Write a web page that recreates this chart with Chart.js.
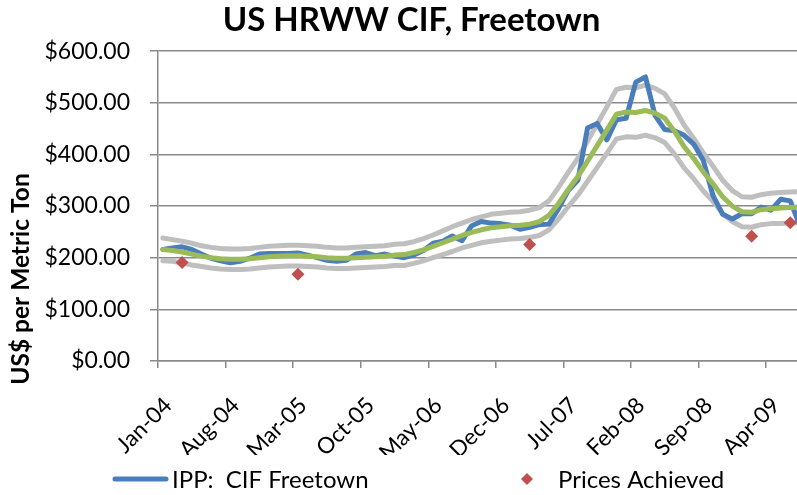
<!DOCTYPE html>
<html>
<head>
<meta charset="utf-8">
<script src="https://cdn.jsdelivr.net/npm/chart.js@4.4.1/dist/chart.umd.min.js"></script>
<style>
  html, body { margin: 0; padding: 0; background: #ffffff; }
  #wrap { width: 797px; height: 495px; }
</style>
</head>
<body>
<div id="wrap"><canvas id="c" width="797" height="495"></canvas></div>
<script>
// ---- data ----
const months = [
  'Jan-04','Feb-04','Mar-04','Apr-04','May-04','Jun-04','Jul-04','Aug-04','Sep-04','Oct-04','Nov-04','Dec-04',
  'Jan-05','Feb-05','Mar-05','Apr-05','May-05','Jun-05','Jul-05','Aug-05','Sep-05','Oct-05','Nov-05','Dec-05',
  'Jan-06','Feb-06','Mar-06','Apr-06','May-06','Jun-06','Jul-06','Aug-06','Sep-06','Oct-06','Nov-06','Dec-06',
  'Jan-07','Feb-07','Mar-07','Apr-07','May-07','Jun-07','Jul-07','Aug-07','Sep-07','Oct-07','Nov-07','Dec-07',
  'Jan-08','Feb-08','Mar-08','Apr-08','May-08','Jun-08','Jul-08','Aug-08','Sep-08','Oct-08','Nov-08','Dec-08',
  'Jan-09','Feb-09','Mar-09','Apr-09','May-09','Jun-09','Jul-09'
];
const tickLabels = ['Jan-04','Aug-04','Mar-05','Oct-05','May-06','Dec-06','Jul-07','Feb-08','Sep-08','Apr-09'];

const ippCif = [
  216,219,221,216,207,199,194,190,193,199,
  207,208,208,208,209,205,200,195,193,195,
  207,210,204,207,203,200,205,214,228,232,
  242,233,262,270,267,266,263,255,259,264,
  265,295,330,350,451,460,428,467,470,540,
  550,475,448,446,437,420,388,320,284,275,
  285,285,298,292,313,310,262
];
const trend = [
  216,214,211,207,203,200,198,197,197,198,
  200,202,203,204,204,203,202,200,199,199,
  200,201,202,203,205,206,210,215,222,229,
  236,243,249,254,258,260,262,263,265,270,
  282,305,332,357,387,417,447,478,482,481,
  485,480,470,445,415,392,366,343,318,300,
  289,288,293,295,296,297,298
];
const bandUpper = [
  238,235,232,228,223,220,218,217,217,218,
  220,222,223,224,224,223,222,220,219,219,
  220,221,222,223,226,227,231,237,244,252,
  260,267,274,279,284,286,288,289,292,297,
  310,336,365,393,426,459,492,526,530,529,
  534,528,517,490,457,431,403,377,350,330,
  318,317,322,325,326,327,328
];
const bandLower = [
  194,193,190,186,183,180,178,177,177,178,
  180,182,183,184,184,183,182,180,179,179,
  180,181,182,183,185,185,189,194,200,206,
  212,219,224,229,232,234,236,237,239,243,
  254,275,299,321,348,375,402,430,434,433,
  437,432,423,401,374,353,329,309,286,270,
  260,259,264,266,266,267,268
];
const achievedMonths = ['Mar-04','Mar-05','Mar-07','Feb-09','Jun-09'];
const achievedPrices = [190.6, 168, 225.6, 241.7, 267.6];

// ---- build point tables (points sit mid-month on a month axis) ----
const pts = arr => arr.map((v, i) => ({ x: i + 0.5, y: v }));
const achievedPts = achievedMonths.map((m, k) => ({ x: months.indexOf(m) + 0.5, y: achievedPrices[k] }));

const FONT = 'Lato, "Open Sans", "Liberation Sans", sans-serif';
const GRID = '#8a8a8a';
const BLUE = '#4a7ebb', GREEN = '#9bbb59', GRAY = '#bfbfbf', RED = '#c0504d';

const overlay = {
  id: 'overlay',
  afterDraw(chart) {
    const ctx = chart.ctx;
    ctx.save();
    // y axis title
    ctx.translate(21, 279);
    ctx.rotate(-Math.PI / 2);
    ctx.font = 'bold 24.5px ' + FONT;
    ctx.fillStyle = '#000';
    ctx.textAlign = 'center';
    ctx.textBaseline = 'middle';
    ctx.fillText('US$ per Metric Ton', 0, 0);
    ctx.restore();

    // legend
    ctx.save();
    const ly = 479;
    ctx.strokeStyle = BLUE;
    ctx.lineWidth = 5;
    ctx.lineCap = 'round';
    ctx.beginPath();
    ctx.moveTo(115, ly);
    ctx.lineTo(166, ly);
    ctx.stroke();
    ctx.fillStyle = RED;
    ctx.beginPath();
    ctx.moveTo(527 - 6, ly);
    ctx.lineTo(527, ly - 6);
    ctx.lineTo(527 + 6, ly);
    ctx.lineTo(527, ly + 6);
    ctx.closePath();
    ctx.fill();
    ctx.font = '24px ' + FONT;
    ctx.fillStyle = '#000';
    ctx.textAlign = 'left';
    ctx.textBaseline = 'middle';
    ctx.fillText('IPP:  CIF Freetown', 172, ly + 1);
    ctx.fillText('Prices Achieved', 558, ly + 1);
    ctx.restore();
  }
};

const lineDs = (label, data, color, order) => ({
  type: 'line', label, data: pts(data), borderColor: color, backgroundColor: color,
  borderWidth: 5, pointRadius: 0, pointHoverRadius: 0, tension: 0,
  borderJoinStyle: 'round', borderCapStyle: 'round', fill: false, order
});

new Chart(document.getElementById('c'), {
  type: 'line',
  data: {
    datasets: [
      {
        type: 'scatter', label: 'Prices Achieved', data: achievedPts,
        pointStyle: 'rectRot', pointRadius: 6.5, pointHoverRadius: 6.5,
        backgroundColor: RED, borderColor: RED, borderWidth: 0, showLine: false, order: 0
      },
      lineDs('Trend', trend, GREEN, 1),
      lineDs('IPP:  CIF Freetown', ippCif, BLUE, 2),
      lineDs('Upper band', bandUpper, GRAY, 3),
      lineDs('Lower band', bandLower, GRAY, 4)
    ]
  },
  options: {
    responsive: false,
    animation: false,
    layout: { autoPadding: false, padding: { left: 26, right: 0, top: 0, bottom: 40 } },
    plugins: {
      legend: { display: false },
      tooltip: { enabled: false },
      title: {
        display: true,
        text: 'US HRWW CIF, Freetown',
        color: '#000',
        font: { family: FONT, size: 33, weight: 'bold' },
        padding: { top: 1, bottom: 10.5 }
      }
    },
    scales: {
      x: {
        type: 'linear',
        min: 0,
        max: 66.2,
        afterBuildTicks: s => { s.ticks = tickLabels.map(t => ({ value: months.indexOf(t) })); },
        afterFit: s => { s.height = 94; s.paddingLeft = 0; s.paddingRight = 0; },
        ticks: {
          callback: v => months[v],
          autoSkip: false,
          maxRotation: 45,
          minRotation: 45,
          padding: 24,
          labelOffset: 10,
          color: '#000',
          font: { family: FONT, size: 22.5 }
        },
        grid: { display: true, drawOnChartArea: false, drawTicks: true, tickLength: 7, color: GRID, lineWidth: 1.5 },
        border: { display: true, color: GRID, width: 1.5 }
      },
      y: {
        min: 0,
        max: 600,
        afterFit: s => { s.width = 132; },
        ticks: {
          stepSize: 100,
          padding: 20,
          color: '#000',
          font: { family: FONT, size: 23 },
          callback: v => '$' + Number(v).toFixed(2)
        },
        grid: { color: GRID, lineWidth: 1.5, tickLength: 8 },
        border: { display: true, color: GRID, width: 1.5 }
      }
    }
  },
  plugins: [overlay]
});
</script>
</body>
</html>
